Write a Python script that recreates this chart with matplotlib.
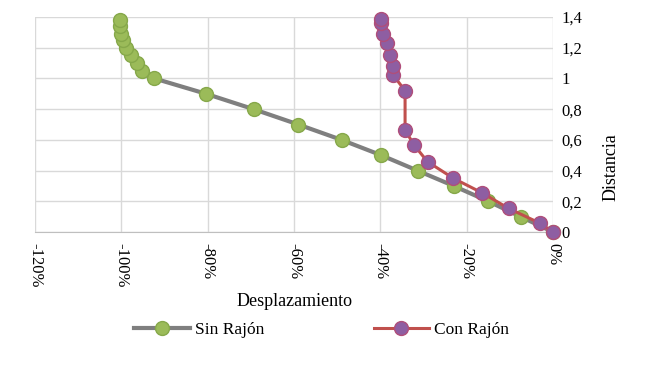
import numpy as np
import matplotlib.pyplot as plt

plt.rcParams['font.family'] = ['Liberation Serif', 'DejaVu Serif']

# Sin Rajon (desplazamiento %, distancia)
sin_x = [0, -7.5, -15, -23, -31.4, -39.8, -49, -59, -69.4, -80.4, -92.4,
         -95.2, -96.5, -97.9, -98.9, -99.6, -100, -100.3, -100.3]
sin_y = [0, 0.1, 0.2, 0.3, 0.4, 0.5, 0.6, 0.7, 0.8, 0.9, 1.0,
         1.05, 1.1, 1.15, 1.2, 1.25, 1.29, 1.34, 1.38]

# Con Rajon
con_x = [0, -3, -10.3, -16.5, -23.1, -29.1, -32.2, -34.3, -34.3, -37, -37,
         -37.8, -38.6, -39.4, -39.8, -39.8]
con_y = [0, 0.057, 0.154, 0.256, 0.35, 0.458, 0.566, 0.664, 0.92, 1.02, 1.08,
         1.15, 1.23, 1.29, 1.36, 1.39]

xticks = [-120, -100, -80, -60, -40, -20, 0]
xlabels = ['-120%', '-100%', '-80%', '-60%', '-40%', '-20%', '0%']
yticks = [0, 0.2, 0.4, 0.6, 0.8, 1.0, 1.2, 1.4]
ylabels = ['0', '0,2', '0,4', '0,6', '0,8', '1', '1,2', '1,4']

fig = plt.figure(figsize=(6.5, 3.69), dpi=100)
ax = fig.add_axes([0.054, 0.371, 0.797, 0.583])

ax.plot(sin_x, sin_y, color='#7f7f7f', lw=3, marker='o', ms=10,
        mfc='#9bbb59', mec='#86a84a', mew=1, label='Sin Rajón', clip_on=False, zorder=3)
ax.plot(con_x, con_y, color='#c0504d', lw=2.2, marker='o', ms=10,
        mfc='#8e5ea2', mec='#b04e7a', mew=1, label='Con Rajón', clip_on=False, zorder=4)

ax.set_xlim(-120, 0)
ax.set_ylim(0, 1.4)
ax.set_xticks(xticks)
ax.set_xticklabels(xlabels, rotation=-90, fontsize=12)
ax.set_yticks(yticks)
ax.set_yticklabels(ylabels, fontsize=12)
ax.yaxis.tick_right()
ax.yaxis.set_label_position('right')
ax.tick_params(axis='x', length=0, pad=8)
ax.tick_params(axis='y', length=0, pad=6)
ax.grid(True, color='#d9d9d9', lw=1)
ax.set_axisbelow(True)
for s in ['top', 'left', 'right']:
    ax.spines[s].set_visible(False)
ax.spines['bottom'].set_color('#bfbfbf')

ax.set_xlabel('Desplazamiento', fontsize=13, labelpad=4)
ax.set_ylabel('Distancia', fontsize=13)
ax.yaxis.set_label_coords(1.095, 0.3)

fig.legend(loc='center', bbox_to_anchor=(0.495, 0.106), ncol=2, frameon=False,
           fontsize=12.5, handlelength=3.2, handletextpad=0.3, columnspacing=6.3)

fig.savefig('out.png', dpi=100)
